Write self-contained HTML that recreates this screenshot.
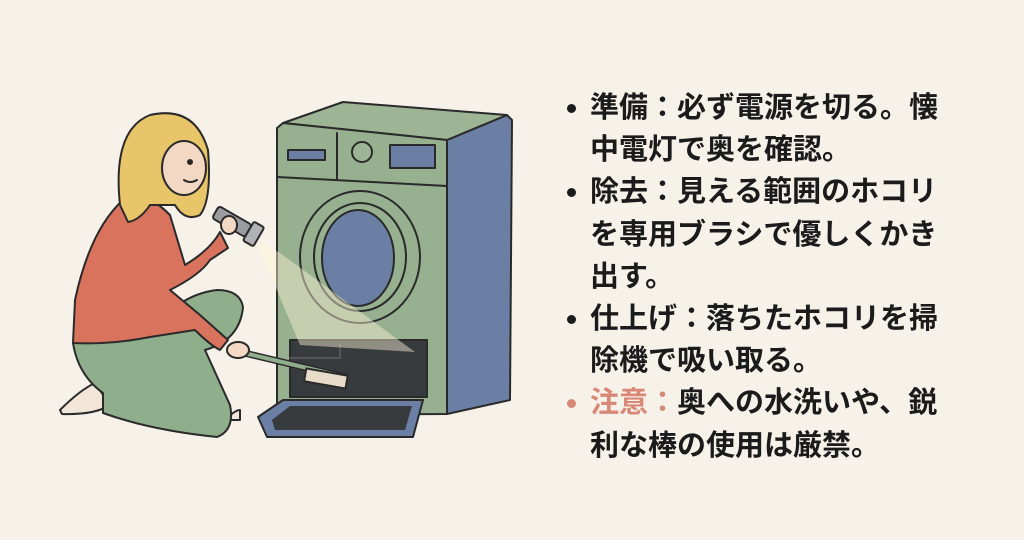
<!DOCTYPE html>
<html><head><meta charset="utf-8"><style>
html,body{margin:0;padding:0;}
body{width:1024px;height:540px;background:#F6F2EA;position:relative;overflow:hidden;font-family:"Liberation Sans","Noto Sans CJK JP",sans-serif;}
svg{position:absolute;left:0;top:0;}
.t{position:absolute;left:590px;top:87px;width:352px;font-size:29px;line-height:42.2px;font-weight:bold;color:#1b1b1b;letter-spacing:0px;}
.t p{margin:0;position:relative;}
.t p:before{content:"";position:absolute;left:-23px;top:17px;width:9px;height:9px;border-radius:50%;background:#1b1b1b;}
.t p.w:before{background:#D98877;}
.w span{color:#D98877;}
</style></head><body>
<svg width="1024" height="540" viewBox="0 0 1024 540" stroke="#2a2a2a" stroke-width="2" stroke-linejoin="round" stroke-linecap="round">
<!-- washer -->
<polygon points="447,140 507,115 512,120 510,400 447,414" fill="#6A7FA3"/>
<polygon points="283,123 343,102 507,115 447,140" fill="#9DB595"/>
<polygon points="277,128 283,123 447,140 447,414 277,415" fill="#96B090"/>
<line x1="277" y1="177" x2="447" y2="186"/>
<line x1="337" y1="133" x2="337" y2="180"/>
<rect x="288" y="150" width="37" height="10" fill="#6A7FA3"/>
<circle cx="362" cy="152" r="10" fill="#9DB595"/>
<rect x="390" y="145" width="45" height="23" fill="#6A7FA3"/>
<ellipse cx="360" cy="257" rx="60" ry="66" fill="#96B090"/>
<ellipse cx="360" cy="257" rx="46" ry="54" fill="none"/>
<ellipse cx="358" cy="258" rx="36" ry="48" fill="#6A7FA3"/>
<!-- lint compartment -->
<rect x="290" y="340" width="137" height="57" fill="#383B3E"/>
<polyline points="290,358 340,358 340,345" fill="none" stroke="#555"/>
<polygon points="258,417 283,400 423,400 413,437 267,437" fill="#6A7FA3"/>
<polygon points="272,420 290,406 412,406 405,430 275,430" fill="#383B3E" stroke="none"/>
<!-- beam -->
<polygon points="255,240 280,253 415,352 300,345 265,262" fill="#FFF6D8" fill-opacity="0.45" stroke="none"/>
<!-- person -->
<path d="M60,410 Q80,390 95,383 L110,405 Q95,415 62,414 Z" fill="#F1E6D8"/>
<path d="M225,420 Q235,410 240,410 L240,420 Z" fill="#F1E6D8"/>
<path d="M73,343 Q78,375 103,393 L103,413 Q150,430 217,437 Q235,430 230,405 L205,350 Q240,340 243,307 Q240,290 217,290 Q175,295 150,337 Z" fill="#8FAF8C"/>
<path d="M123,200 Q90,230 75,300 L73,343 Q110,345 150,337 L195,330 Q210,345 220,350 L228,340 L200,315 L170,290 Q200,275 210,260 L228,248 L220,232 Q210,250 185,265 L170,215 Q155,200 140,195 Z" fill="#D9735E"/>
<path d="M120,205 Q112,130 150,115 Q195,105 208,150 Q212,200 200,215 Q185,222 175,205 L150,205 Q140,220 128,222 Z" fill="#E9C56A"/>
<ellipse cx="184" cy="168" rx="22" ry="27" fill="#F3D8C4"/>
<circle cx="190" cy="162" r="2" fill="#222"/>
<path d="M184 180 Q190 184 197 180" fill="none"/>
<!-- flashlight -->
<g transform="rotate(30 238 225)"><rect x="212" y="218" width="38" height="14" rx="3" fill="#9A9CA0"/><rect x="250" y="214" width="12" height="22" rx="2" fill="#B0B2B5"/></g>
<ellipse cx="229" cy="225" rx="8" ry="9" fill="#F3D8C4"/>
<!-- brush -->
<line x1="240" y1="352" x2="345" y2="377" stroke-width="7" stroke="#2a2a2a"/>
<line x1="240" y1="352" x2="345" y2="377" stroke-width="4" stroke="#8FAF8C"/>
<rect x="305" y="372" width="42" height="13" fill="#E8DCC8" transform="rotate(10 326 378)"/>
<ellipse cx="238" cy="350" rx="11" ry="8" fill="#F3D8C4"/>
</svg>
<div class="t">
<p>準備：必ず電源を切る。懐中電灯で奥を確認。</p>
<p>除去：見える範囲のホコリを専用ブラシで優しくかき出す。</p>
<p>仕上げ：落ちたホコリを掃除機で吸い取る。</p>
<p class="w"><span>注意：</span>奥への水洗いや、鋭利な棒の使用は厳禁。</p>
</div>
</body></html>
